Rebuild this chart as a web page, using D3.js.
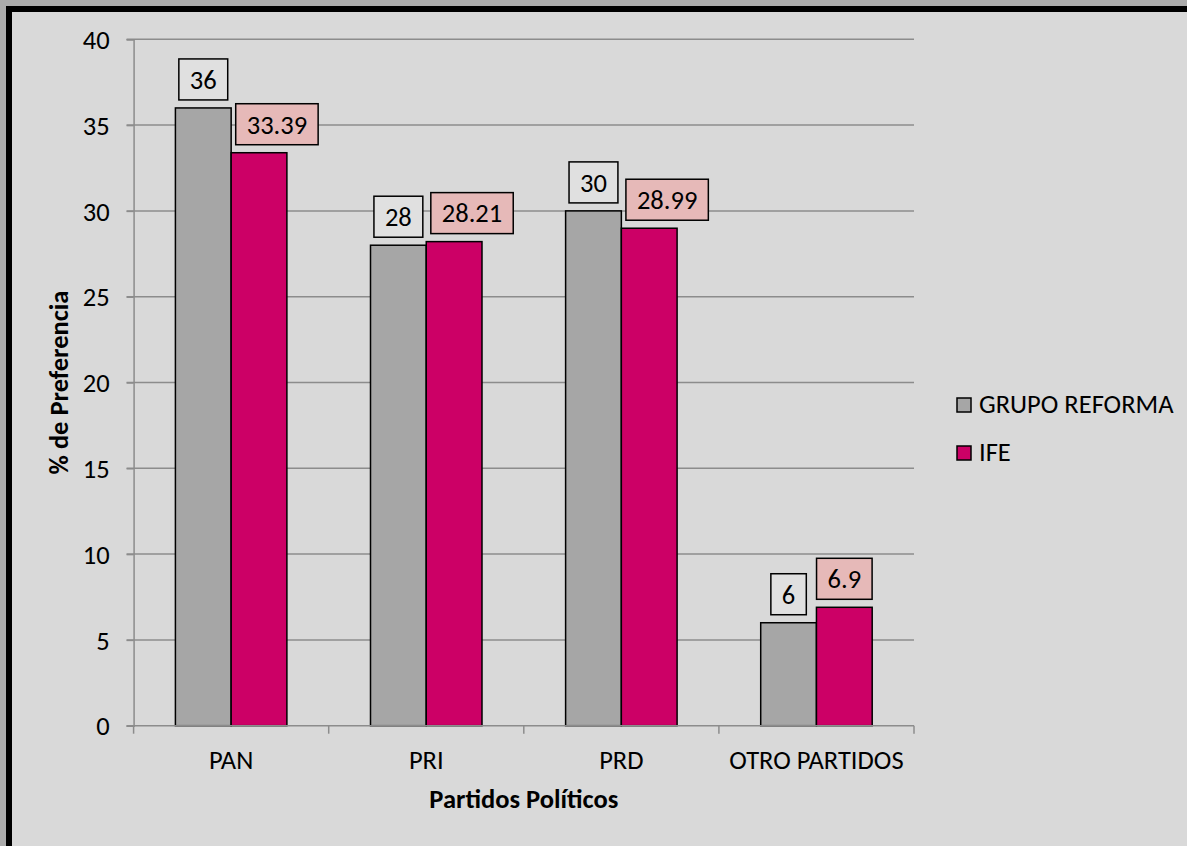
<!DOCTYPE html>
<html>
<head>
<meta charset="utf-8">
<script src="https://cdn.jsdelivr.net/npm/d3@7"></script>
<style>
  html, body { margin: 0; padding: 0; background: #ababab; }
  svg { display: block; }
  text { font-family: Carlito, Calibri, Lato, sans-serif; fill: #000; }
</style>
</head>
<body>
<svg id="chart" width="1187" height="846"></svg>
<script>
const categories = ["PAN", "PRI", "PRD", "OTRO PARTIDOS"];
const seriesNames = ["GRUPO REFORMA", "IFE"];
const grupoReforma = [36, 28, 30, 6];
const ife = [33.39, 28.21, 28.99, 6.9];
const yTicks = [0, 5, 10, 15, 20, 25, 30, 35, 40];
const seriesColors = ["#a6a6a6", "#cc0066"];
const labelFills = ["#e0e0e0", "#e6b9b8"];

(function () {
const svg = d3.select("#chart");
const W = 1187, H = 846;
const FONT = "Carlito, Calibri, Lato, sans-serif";

// outer frame
svg.append("rect").attr("x", 0).attr("y", 0).attr("width", W).attr("height", H).attr("fill", "#ababab");
svg.append("rect").attr("x", 6).attr("y", 6).attr("width", W).attr("height", H).attr("fill", "#000");
svg.append("rect").attr("x", 12).attr("y", 12).attr("width", W).attr("height", H).attr("fill", "#d9d9d9");

const pLeft = 133.6, pRight = 914, pTop = 39.3, pBottom = 725.7;
const fs = 26.5;

const x = d3.scaleBand().domain(categories).range([pLeft, pRight]).paddingInner(0).paddingOuter(0);
const y = d3.scaleLinear().domain([0, 40]).range([pBottom, pTop]);
const barW = x.bandwidth() / 3.5;
const xs = d3.scaleBand().domain(seriesNames).range([0, barW * 2]);

// gridlines
const g = svg.append("g");
g.selectAll("line.grid").data(yTicks.filter(d => d > 0)).join("line")
  .attr("x1", pLeft - 7).attr("x2", pRight)
  .attr("y1", d => y(d)).attr("y2", d => y(d))
  .attr("stroke", "#8c8c8c").attr("stroke-width", 1.5);

// y axis
const yAxis = d3.axisLeft(y).tickValues(yTicks).tickSize(7).tickPadding(17).tickFormat(d3.format("d"));
const ya = svg.append("g").attr("transform", `translate(${pLeft},0)`).call(yAxis);
ya.select(".domain").attr("stroke", "#8c8c8c").attr("stroke-width", 1.5);
ya.selectAll(".tick line").attr("stroke", "#8c8c8c").attr("stroke-width", 1.5);
ya.selectAll(".tick text").style("font-size", fs + "px").style("font-family", FONT).attr("fill", "#000").attr("dy", "0.35em");

// bars
const data = categories.map((c, i) => ({ cat: c, vals: [grupoReforma[i], ife[i]] }));
const groups = svg.append("g").selectAll("g").data(data).join("g")
  .attr("transform", d => `translate(${x(d.cat) + (x.bandwidth() - barW * 2) / 2},0)`);
groups.selectAll("rect").data(d => d.vals.map((v, j) => ({ v, j, s: seriesNames[j] }))).join("rect")
  .attr("x", d => xs(d.s))
  .attr("width", barW)
  .attr("y", d => y(d.v))
  .attr("height", d => y(0) - y(d.v))
  .attr("fill", d => seriesColors[d.j])
  .attr("stroke", "#000").attr("stroke-width", 1.5);

// x axis
const xAxis = d3.axisBottom(x).tickSize(0).tickPadding(24);
const xa = svg.append("g").attr("transform", `translate(0,${pBottom})`).call(xAxis);
xa.select(".domain").remove();
xa.append("line").attr("x1", pLeft - 7).attr("x2", pRight).attr("y1", 0).attr("y2", 0).attr("stroke", "#8c8c8c").attr("stroke-width", 1.5);
xa.selectAll(".tick text").style("font-size", fs + "px").style("font-family", FONT).attr("fill", "#000");
const boundaries = categories.map(c => x(c)).concat([pRight]);
xa.selectAll("line.bt").data(boundaries).join("line").attr("class", "bt")
  .attr("x1", d => d).attr("x2", d => d).attr("y1", 0).attr("y2", 8)
  .attr("stroke", "#8c8c8c").attr("stroke-width", 1.5);

// data labels
const lblG = svg.append("g");
const boxH = 41, gap = 8, padX = 11;
data.forEach(d => {
  const gx = x(d.cat) + (x.bandwidth() - barW * 2) / 2;
  let prevRight = -Infinity;
  d.vals.forEach((v, j) => {
    const cx = gx + xs(seriesNames[j]) + barW / 2;
    const t = lblG.append("text").text(String(v))
      .style("font-size", fs + "px").style("font-family", FONT).attr("text-anchor", "middle");
    const tw = t.node().getComputedTextLength();
    const bw = tw + padX * 2;
    let bx = cx - bw / 2;
    if (bx < prevRight + 8) bx = prevRight + 8;
    const by = y(v) - gap - boxH;
    lblG.insert("rect", "text").attr("x", bx).attr("y", by).attr("width", bw).attr("height", boxH)
      .attr("fill", labelFills[j]).attr("stroke", "#000").attr("stroke-width", 1.5);
    t.attr("x", bx + bw / 2).attr("y", by + boxH / 2).attr("dy", "0.35em");
    prevRight = bx + bw;
  });
});
lblG.selectAll("text").raise();

// axis titles
svg.append("text").text("Partidos Políticos")
  .attr("x", (pLeft + pRight) / 2).attr("y", 808)
  .attr("text-anchor", "middle").style("font-size", fs + "px").style("font-weight", "bold");
svg.append("text").text("% de Preferencia")
  .attr("transform", `translate(68,${(pTop + pBottom) / 2}) rotate(-90)`)
  .attr("text-anchor", "middle").style("font-size", fs + "px").style("font-weight", "bold");

// legend
const leg = svg.append("g").selectAll("g").data(seriesNames).join("g")
  .attr("transform", (d, i) => `translate(957,${398 + i * 48})`);
leg.append("rect").attr("width", 14).attr("height", 14)
  .attr("fill", (d, i) => seriesColors[i]).attr("stroke", "#000").attr("stroke-width", 1.5);
leg.append("text").text(d => d).attr("x", 22).attr("y", 15)
  .style("font-size", fs + "px");
})();
</script>
</body>
</html>
